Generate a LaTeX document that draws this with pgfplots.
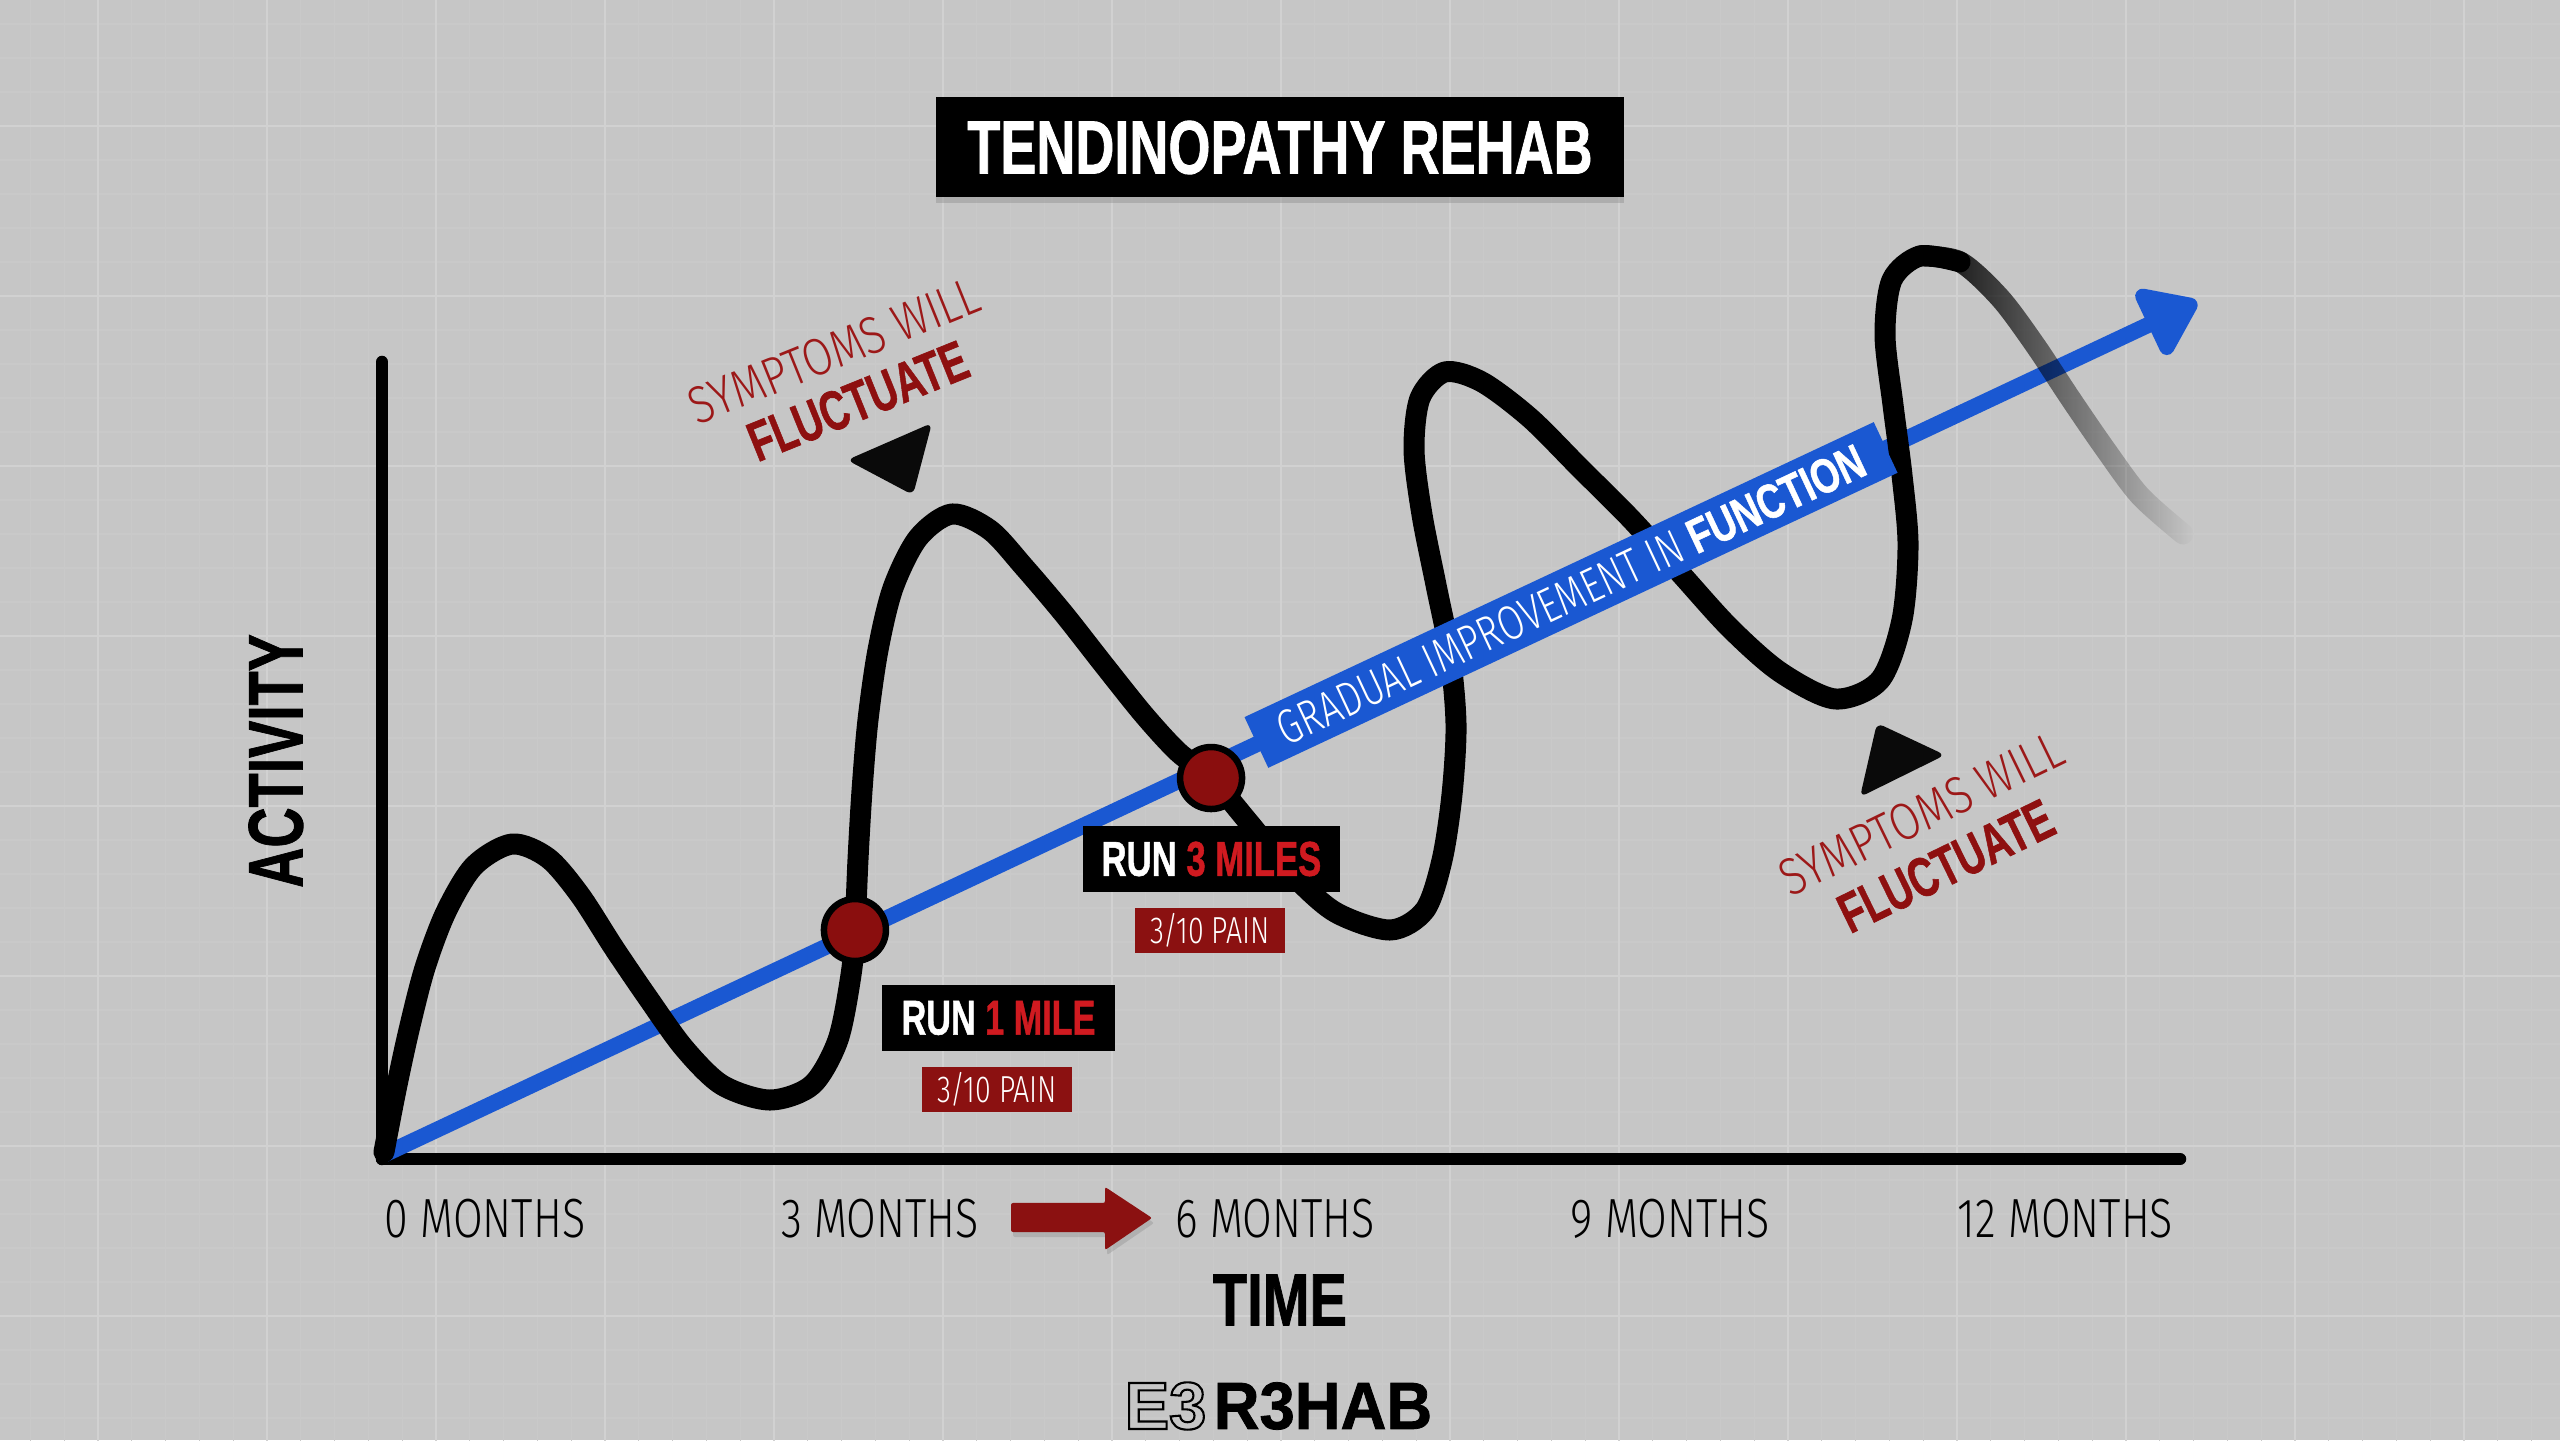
\documentclass[border=0pt]{standalone}
\usepackage{fontspec}
\setmainfont{Liberation Sans}
\newfontfamily\heavy{Liberation Sans}[BoldFeatures={FakeBold=1.2}]
\newfontfamily\light{Fira Sans Light}
\usepackage{pgfplots}
\pgfplotsset{compat=1.18}
\usetikzlibrary{arrows.meta,shadows,fadings}

\definecolor{bg}{HTML}{C6C6C6}
\definecolor{gridmaj}{HTML}{D1D1D1}
\definecolor{gridmin}{HTML}{C9C9C9}
\definecolor{fnblue}{HTML}{1A58D2}
\definecolor{dotred}{HTML}{8A0E0E}
\definecolor{painred}{HTML}{8B1111}
\definecolor{milered}{HTML}{D01A20}
\definecolor{notered}{HTML}{9C1818}
\definecolor{fluctred}{HTML}{8E1010}
\definecolor{ink}{HTML}{0A0A0A}

% horizontally condensed text, fixed font sizes, outlined glyphs
\newcommand{\sx}[2]{\scalebox{#1}[1]{#2}}
\newcommand{\fs}[1]{\fontsize{#1}{#1}\selectfont}
\newcommand{\outlined}[1]{\special{pdf:literal direct 1 Tr 0.6 w}#1\special{pdf:literal direct 0 Tr}}
\newcommand{\monthlabel}[1]{\sx{0.78}{#1 MONTHS}}

\begin{document}
\begin{tikzpicture}
\path[use as bounding box] (0,0) rectangle (25.6,14.4);
\clip (0,0) rectangle (25.6,14.4);
\fill[bg] (0,0) rectangle (25.6,14.4);
% background grid
\begin{scope}[shift={(0.98,1.24)}]
  \draw[gridmin, line width=0.012cm, xstep=0.338, ystep=0.34] (-1.7,-1.7) grid (25,13.6);
  \draw[gridmaj, line width=0.022cm, xstep=1.69, ystep=1.70] (-1.69,-1.70) grid (25,13.6);
\end{scope}

% logo
\node[anchor=east, inner sep=0, text=black] at (12.07,0.34) {\fs{19}\bfseries\outlined{E3}};
\node[anchor=west, inner sep=0, text=black] at (12.13,0.34) {\fs{19}\heavy\bfseries\sx{0.95}{R3HAB}};

% title
\node[fill=black, text=white, minimum width=6.88cm, minimum height=1.0cm, inner sep=0,
      drop shadow={shadow xshift=0cm, shadow yshift=-0.06cm, opacity=0.35}]
  at (12.80,12.925) {\fs{21.5}\heavy\bfseries\sx{0.715}{TENDINOPATHY REHAB}};

\begin{axis}[
  at={(3.82cm,2.81cm)}, anchor=south west,
  scale only axis, width=17.98cm, height=7.97cm,
  xmin=-0.782, xmax=12.87, ymin=0, ymax=10,
  axis lines=left,
  axis line style={-, line width=0.125cm, line cap=round, black},
  xtick={0,3,6,9,12},
  xticklabels={{\monthlabel{0}},{\monthlabel{3}},{\monthlabel{6}},{\monthlabel{9}},{\monthlabel{12}}},
  ytick=\empty,
  major tick length=0pt,
  xticklabel style={anchor=center, yshift=-0.60cm, font=\fs{15.7}\light, inner sep=0},
  xlabel={\sx{0.76}{TIME}},
  ylabel={\sx{0.72}{ACTIVITY}},
  xlabel style={at={(axis description cs:0.4994,-0.177)}, anchor=center, font=\fs{21}\heavy\bfseries, inner sep=0},
  ylabel style={at={(axis description cs:-0.059,0.4994)}, anchor=center, font=\fs{22}\heavy\bfseries, inner sep=0},
  clip=false,
]

% gradual improvement in function
\addplot[fnblue, line width=0.16cm, -{Triangle[length=0.6cm,width=0.82cm,round]}]
  coordinates {(-0.76,0.06) (12.999,10.753)};

% fluctuating activity
\addplot[black, line width=0.21cm, smooth, line cap=round, line join=round] coordinates {
(-0.767,0.088) (-0.676,0.866) (-0.577,1.619) (-0.456,2.397) (-0.296,3.099)
(-0.084,3.676) (0.205,3.952) (0.478,3.777) (0.721,3.312) (0.980,2.647)
(1.238,2.020) (1.511,1.393) (1.800,0.928) (2.164,0.740) (2.483,0.928)
(2.680,1.493) (2.779,2.309) (2.809,2.873) (2.832,3.752) (2.863,4.630)
(2.908,5.508) (2.984,6.386) (3.098,7.164) (3.288,7.792) (3.546,8.093)
(3.834,7.892) (4.093,7.428) (4.396,6.838) (4.700,6.198) (5.004,5.571)
(5.262,5.107) (5.513,4.780) (5.809,4.203) (6.112,3.601) (6.454,3.099)
(6.872,2.873) (7.137,3.124) (7.267,3.752) (7.342,4.567) (7.373,5.445)
(7.327,6.324) (7.221,7.202) (7.115,8.080) (7.054,8.896) (7.100,9.548)
(7.289,9.875) (7.570,9.749) (7.935,9.297) (8.314,8.670) (8.694,8.043)
(9.074,7.353) (9.453,6.662) (9.833,6.110) (10.251,5.772) (10.592,6.010)
(10.759,6.763) (10.805,7.704) (10.759,8.582) (10.691,9.460) (10.630,10.339)
(10.683,11.029) (10.896,11.330) (11.200,11.255)
};
% fading tail
\addplot[black, line width=0.21cm, smooth, line cap=round, path fading=east] coordinates {
(10.896,11.330) (11.200,11.255) (11.503,10.803) (11.769,10.213) (12.035,9.548)
(12.301,8.908) (12.567,8.319) (12.893,7.842)
};

% label on the improvement line
\node[fill=fnblue, text=white, rotate=25.12, minimum width=6.95cm, minimum height=0.56cm, inner sep=0]
  at (axis cs:8.246,7.077) {\fs{13.8}\sx{0.76}{{\light GRADUAL IMPROVEMENT IN} {\heavy\bfseries FUNCTION}}};

% milestones
\addplot[only marks, mark=*, mark size=0.31cm, mark options={fill=dotred, draw=black, line width=0.065cm}]
  coordinates {(2.809,2.873) (5.513,4.780)};

\node[fill=black, minimum width=2.33cm, minimum height=0.66cm, inner sep=0]
  at (axis cs:3.899,1.769) {\fs{13.9}\heavy\bfseries\sx{0.70}{\textcolor{white}{RUN} \textcolor{milered}{1 MILE}}};
\node[fill=painred, text=white, minimum width=1.50cm, minimum height=0.45cm, inner sep=0]
  at (axis cs:3.888,0.872) {\fs{10.7}\light\sx{0.76}{3/10 PAIN}};
\node[fill=black, minimum width=2.57cm, minimum height=0.66cm, inner sep=0]
  at (axis cs:5.516,3.764) {\fs{13.9}\heavy\bfseries\sx{0.71}{\textcolor{white}{RUN} \textcolor{milered}{3 MILES}}};
\node[fill=painred, text=white, minimum width=1.50cm, minimum height=0.45cm, inner sep=0]
  at (axis cs:5.505,2.867) {\fs{10.7}\light\sx{0.76}{3/10 PAIN}};

% symptom notes and pointers
\node[rotate=22, inner sep=0, text=notered] at (axis cs:2.650,10.14) {\fs{14.9}\light\sx{0.83}{SYMPTOMS WILL}};
\node[rotate=22, inner sep=0, text=fluctred] at (axis cs:2.832,9.51) {\fs{15.9}\heavy\bfseries\sx{0.70}{FLUCTUATE}};
\node[rotate=26, inner sep=0, text=notered] at (axis cs:10.905,4.33) {\fs{14.9}\light\sx{0.83}{SYMPTOMS WILL}};
\node[rotate=26, inner sep=0, text=fluctred] at (axis cs:11.093,3.676) {\fs{15.9}\heavy\bfseries\sx{0.70}{FLUCTUATE}};

\fill[ink, rounded corners=0.07cm] (axis cs:2.749,8.77) -- (axis cs:3.394,9.235) -- (axis cs:3.250,8.331) -- cycle;
\fill[ink, rounded corners=0.07cm] (axis cs:10.569,5.470) -- (axis cs:11.086,5.069) -- (axis cs:10.440,4.542) -- cycle;

% arrow between 3 and 6 months
\fill[painred, rounded corners=0.02cm, drop shadow={shadow xshift=0.02cm, shadow yshift=-0.05cm, opacity=0.3}]
  (axis cs:3.994,-0.552) -- (axis cs:4.708,-0.552) -- (axis cs:4.708,-0.351) -- (axis cs:5.065,-0.74)
  -- (axis cs:4.708,-1.142) -- (axis cs:4.708,-0.916) -- (axis cs:3.994,-0.916) -- cycle;
\end{axis}
\end{tikzpicture}
\end{document}
